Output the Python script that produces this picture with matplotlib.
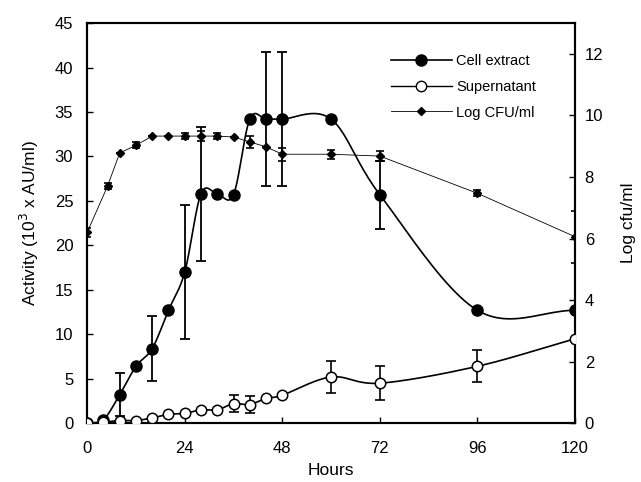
import numpy as np
import matplotlib
matplotlib.use("Agg")
import matplotlib.pyplot as plt
from matplotlib.lines import Line2D

plt.rcParams['font.family'] = ['Liberation Sans', 'DejaVu Sans']

# данные
hours = [0, 4, 8, 12, 16, 20, 24, 28, 32, 36, 40, 44, 48, 60, 72, 96, 120]
cell_extract = [0, 0.4, 3.2, 6.4, 8.4, 12.7, 17.0, 25.8, 25.8, 25.7, 34.2, 34.2, 34.2, 34.2, 25.7, 12.7, 12.7]
cell_err = [0, 0, 2.4, 0, 3.7, 0, 7.5, 7.5, 0, 0, 0, 7.5, 7.5, 0, 3.8, 0, 0]
supernatant = [0, 0.1, 0.3, 0.3, 0.6, 1.0, 1.1, 1.5, 1.5, 2.2, 2.1, 2.8, 3.15, 5.2, 4.5, 6.4, 9.5]
super_err = [0, 0, 0, 0, 0, 0, 0, 0, 0, 0.95, 1.0, 0, 0, 1.8, 1.9, 1.8, 0]
log_hours = [0, 5, 8, 12, 16, 20, 24, 28, 32, 36, 40, 44, 48, 60, 72, 96, 120]
log_cfu = [6.2, 7.7, 8.78, 9.03, 9.33, 9.33, 9.33, 9.33, 9.33, 9.3, 9.14, 8.98, 8.74, 8.74, 8.68, 7.47, 6.06]
log_err = [0.15, 0.1, 0, 0.1, 0, 0, 0.1, 0.15, 0.1, 0, 0.2, 0, 0.21, 0.15, 0.15, 0.1, 0.85]


def smooth(x, y, n=24):
    """Сглаженная линия как в Excel (Catmull-Rom)"""
    x = np.asarray(x, float)
    y = np.asarray(y, float)
    px = np.concatenate([[2 * x[0] - x[1]], x, [2 * x[-1] - x[-2]]])
    py = np.concatenate([[2 * y[0] - y[1]], y, [2 * y[-1] - y[-2]]])
    xs, ys = [], []
    t = np.linspace(0, 1, n)
    for i in range(1, len(px) - 2):
        for p, out in ((px, xs), (py, ys)):
            p0, p1, p2, p3 = p[i - 1], p[i], p[i + 1], p[i + 2]
            out.extend(0.5 * (2 * p1 + (-p0 + p2) * t
                              + (2 * p0 - 5 * p1 + 4 * p2 - p3) * t ** 2
                              + (-p0 + 3 * p1 - 3 * p2 + p3) * t ** 3))
    return np.array(xs), np.array(ys)


fig = plt.figure(figsize=(6.41, 4.82), dpi=100)
ax = fig.add_axes([0.136, 0.122, 0.761, 0.830])
ax2 = ax.twinx()

# Log CFU/ml
ax2.plot(log_hours, log_cfu, color='black', lw=0.6, marker='D', ms=4.5,
         mfc='black', mec='black', zorder=2)
ax2.errorbar(log_hours, log_cfu, yerr=log_err, fmt='none', ecolor='black',
             elinewidth=1.2, capsize=3, capthick=1.2, zorder=2)

# Cell extract
sx, sy = smooth(hours, cell_extract)
ax.plot(sx, sy, color='black', lw=1.2, zorder=3)
ax.errorbar(hours, cell_extract, yerr=cell_err, fmt='none', ecolor='black',
            elinewidth=1.3, capsize=3.5, capthick=1.3, zorder=3)
ax.plot(hours, cell_extract, ls='none', marker='o', ms=8, mfc='black',
        mec='black', zorder=4)

# Supernatant
sx, sy = smooth(hours, supernatant)
ax.plot(sx, sy, color='black', lw=1.2, zorder=3)
ax.errorbar(hours, supernatant, yerr=super_err, fmt='none', ecolor='black',
            elinewidth=1.2, capsize=3.5, capthick=1.2, zorder=3)
ax.plot(hours, supernatant, ls='none', marker='o', ms=7.5, mfc='white',
        mec='black', mew=1.1, zorder=4)

ax.set_zorder(ax2.get_zorder() + 1)
ax.patch.set_visible(False)

ax.set_xlim(0, 120)
ax.set_ylim(0, 45)
ax2.set_ylim(0, 13)
ax.set_xticks([0, 24, 48, 72, 96, 120])
ax.set_yticks(np.arange(0, 46, 5))
ax2.set_yticks(np.arange(0, 13, 2))

for a in (ax, ax2):
    a.tick_params(direction='in', length=4, width=1, labelsize=12)
    for s in a.spines.values():
        s.set_linewidth(1.5)
ax.tick_params(axis='x', pad=13)
ax.tick_params(axis='y', pad=10)
ax2.tick_params(axis='y', pad=7)

ax.set_xlabel('Hours', fontsize=12.5, labelpad=5)
ax.set_ylabel('Activity (10$^3$ x AU/ml)', fontsize=12.5, labelpad=10)
ax2.set_ylabel('Log cfu/ml', fontsize=12.5, labelpad=13)

handles = [
    Line2D([], [], color='black', lw=1.2, marker='o', ms=8, mfc='black'),
    Line2D([], [], color='black', lw=1.0, marker='o', ms=7.5, mfc='white'),
    Line2D([], [], color='black', lw=0.6, marker='D', ms=4.5, mfc='black'),
]
ax.legend(handles, ['Cell extract', 'Supernatant', 'Log CFU/ml'],
          loc='upper left', bbox_to_anchor=(0.595, 0.955), frameon=False,
          fontsize=10.5, handlelength=4.2, labelspacing=0.8, handletextpad=0.3)

plt.savefig('out.png', dpi=100)
